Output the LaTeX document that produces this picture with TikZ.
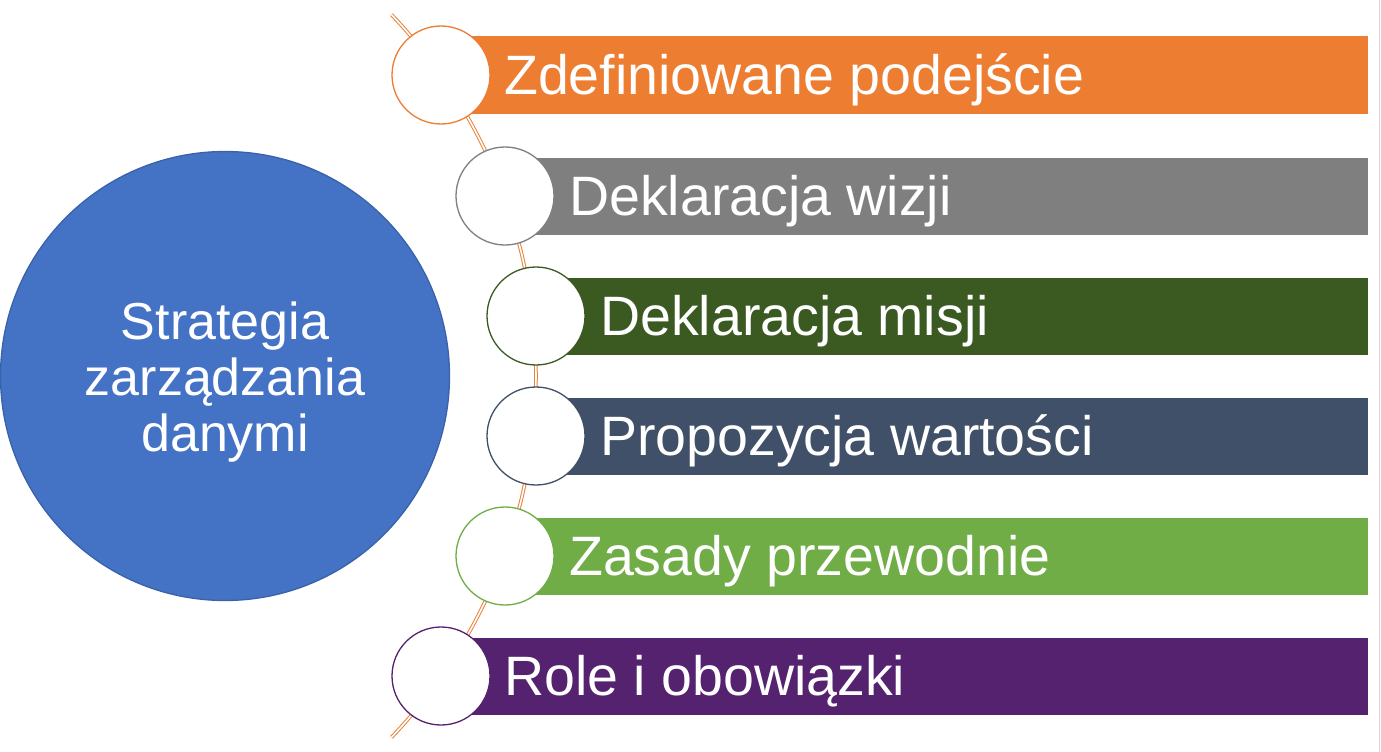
\documentclass[tikz,border=0pt]{standalone}
\usepackage{fontspec}
\setmainfont{Liberation Sans}
\definecolor{cOrange}{HTML}{ED7D31}
\definecolor{cGray}{HTML}{7F7F7F}
\definecolor{cDkGreen}{HTML}{3A5A22}
\definecolor{cNavy}{HTML}{405068}
\definecolor{cLtGreen}{HTML}{70AD47}
\definecolor{cPurple}{HTML}{55226F}
\definecolor{cBlue}{HTML}{4472C4}
\definecolor{cBlueEdge}{HTML}{3A62AC}
\definecolor{cArc}{HTML}{E9823A}
\tikzset{
  bar/.style={fill=#1, draw=none, minimum height=77pt, inner sep=0pt, anchor=west},
  dot/.style={circle, fill=white, draw=#1, line width=1.3pt, minimum size=98pt, inner sep=0pt},
  bartext/.style={text=white, anchor=base west, inner sep=0pt, font=\fontsize{55.5}{60}\selectfont},
}
\begin{document}
\begin{tikzpicture}[x=1pt,y=-1pt]
\useasboundingbox (0,0) rectangle (1381,752);
\fill[white] (0,0) rectangle (1381,752);
\draw[gray!30, line width=1pt] (1379.5,0) -- (1379.5,752);
% big circle
\node[circle, fill=cBlue, draw=cBlueEdge, line width=1.3pt, minimum size=449pt, inner sep=0pt] (main) at (225,376) {};
\node[text=white, align=center, font=\fontsize{52}{56}\selectfont] (maintext) at (225,382)
  {Strategia\\zarządzania\\danymi};
% arc
\draw[cArc, line width=1pt, double=white, double distance=1.6pt]
  (12,376) ++(-43.6:524) arc[start angle=-43.6, end angle=43.6, radius=524];
% bars
\foreach \n/\cx/\cy/\col in {1/441/75/cOrange, 2/505/196/cGray, 3/536/316/cDkGreen,
                              4/536/436/cNavy, 5/505/556/cLtGreen, 6/441/676/cPurple}{
  \pgfmathsetmacro{\w}{1368-\cx}
  \node[bar=\col, minimum width=\w pt] (bar\n) at (\cx,\cy) {};
}
\foreach \n/\cx/\cy/\col in {1/441/75/cOrange, 2/505/196/cGray, 3/536/316/cDkGreen,
                              4/536/436/cNavy, 5/505/556/cLtGreen, 6/441/676/cPurple}{
  \node[dot=\col] (dot\n) at (\cx,\cy) {};
}
\node[bartext] (t1) at (504,94) {Zdefiniowane podejście};
\node[bartext] (t2) at (569,215) {Deklaracja wizji};
\node[bartext] (t3) at (600,335) {Deklaracja misji};
\node[bartext] (t4) at (600,455) {Propozycja wartości};
\node[bartext] (t5) at (569,575) {Zasady przewodnie};
\node[bartext] (t6) at (504,695) {Role i obowiązki};
\end{tikzpicture}
\end{document}
